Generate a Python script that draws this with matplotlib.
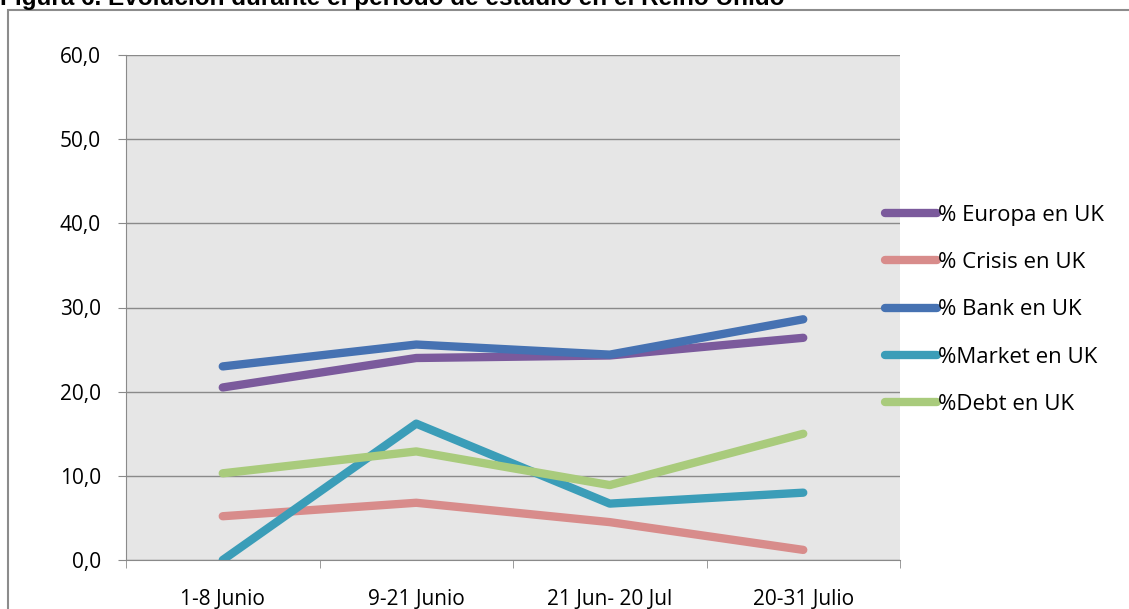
import numpy as np
import matplotlib
matplotlib.use('Agg')
import matplotlib.pyplot as plt
from matplotlib.patches import Rectangle

periodos = ['1-8 Junio', '9-21 Junio', '21 Jun- 20 Jul', '20-31 Julio']
europa = [20.5, 24.0, 24.3, 26.4]
crisis = [5.2, 6.8, 4.5, 1.2]
bank = [23.0, 25.6, 24.4, 28.6]
market = [0.0, 16.2, 6.7, 8.0]
debt = [10.3, 12.9, 8.9, 15.0]

series = [
    ('% Europa en UK', europa, '#7B5A9C'),
    ('% Crisis en UK', crisis, '#D88C8B'),
    ('% Bank en UK', bank, '#4672B2'),
    ('%Market en UK', market, '#3B9DB8'),
    ('%Debt en UK', debt, '#A9CB7C'),
]

plt.rcParams['font.family'] = ['Open Sans', 'DejaVu Sans']

W, H = 1129, 609
fig = plt.figure(figsize=(W / 100, H / 100), dpi=100)
ax = fig.add_axes([126 / W, 1 - 560 / H, 774 / W, 505 / H])
ax.set_facecolor('#E6E6E6')

x = np.arange(len(periodos))
for nombre, vals, color in series:
    ax.plot(x, vals, color=color, lw=6, label=nombre, solid_capstyle='round', solid_joinstyle='round')

ax.set_xlim(-0.5, 3.5)
ax.set_ylim(0, 60)
ax.set_yticks(np.arange(0, 61, 10))
ax.set_yticklabels([f'{v:.1f}'.replace('.', ',') for v in np.arange(0, 61, 10)], fontsize=15)
ax.yaxis.grid(True, color='#8A8A8A', lw=1)
ax.set_axisbelow(True)
ax.set_xticks(x)
ax.set_xticklabels(periodos, fontsize=15)
ax.set_xticks(np.arange(-0.5, 4, 1), minor=True)
ax.tick_params(axis='x', which='major', length=0, pad=21)
ax.tick_params(axis='x', which='minor', length=6, color='#8A8A8A')
ax.tick_params(axis='y', length=6, color='#8A8A8A', pad=12)
for s in ['top', 'right']:
    ax.spines[s].set_visible(False)
for s in ['left', 'bottom']:
    ax.spines[s].set_color('#8A8A8A')

leg = ax.legend(loc='upper left', bbox_to_anchor=(885 / W, 1 - 205 / H),
                bbox_transform=fig.transFigure, frameon=False, fontsize=16,
                handlelength=2.35, handletextpad=0.05, labelspacing=1.18,
                borderaxespad=0, borderpad=0)

# marco del área del gráfico
fig.patches.append(Rectangle((8 / W, -0.1), 1.2, 1 - 10 / H + 0.1, transform=fig.transFigure,
                             fill=False, edgecolor='#8C8C8C', lw=1.5, clip_on=False))

fig.text(0, 1 - 5 / H, 'Figura 6. Evolución durante el periodo de estudio en el Reino Unido',
         fontsize=17.5, fontweight='bold', family='Liberation Sans', va='baseline', ha='left')

fig.savefig('out.png', dpi=100)
